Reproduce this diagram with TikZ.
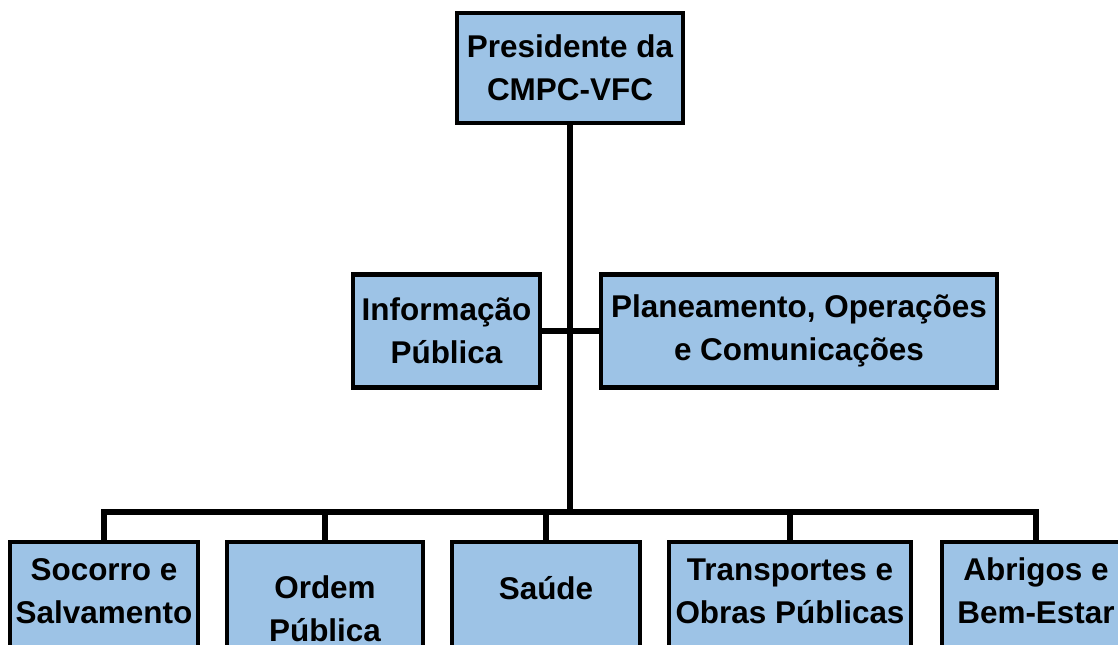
\documentclass[tikz,border=0pt]{standalone}
\usepackage{fontspec}
\setmainfont{Liberation Sans}
\definecolor{caixa}{RGB}{157,195,230}
\tikzset{
  orgbox/.style={draw=black, fill=caixa, line width=2.3pt, inner sep=0pt},
  orgtxt/.style={align=center, font=\bfseries\fontsize{17.9}{24.4}\selectfont},
  fio/.style={line width=3.1pt, line join=miter}
}
\begin{document}
\begin{tikzpicture}[x=0.02cm, y=-0.02cm]
                \useasboundingbox (0,0) rectangle (1118,645) ;
                % topo
                \node [orgbox, orgtxt, minimum width=4.52cm, minimum height=2.2cm] (pres) at (570,68) {Presidente da\\CMPC-VFC} ;
                % meio
                \node [orgbox, orgtxt, minimum width=3.74cm, minimum height=2.26cm] (info) at (446.5,331) {Informação\\Pública} ;
                \node [orgbox, orgtxt, minimum width=7.94cm, minimum height=2.26cm] (plan) at (799,331) {Planeamento, Operações\\e Comunicações} ;
                % baixo
                \node [orgbox, anchor=north, minimum width=3.76cm, minimum height=2.8cm] (socorro) at (104,540) {} ;
                \node [orgbox, anchor=north, minimum width=3.92cm, minimum height=2.8cm] (ordem) at (325,540) {} ;
                \node [orgbox, anchor=north, minimum width=3.76cm, minimum height=2.8cm] (saude) at (546,540) {} ;
                \node [orgbox, anchor=north, minimum width=4.84cm, minimum height=2.8cm] (transp) at (790,540) {} ;
                \node [orgbox, anchor=north, minimum width=3.76cm, minimum height=2.8cm] (abrigos) at (1036,540) {} ;
                \node [orgtxt] (socorro-t) at (104,591) {Socorro e\\Salvamento} ;
                \node [orgtxt] (ordem-t) at (325,609) {Ordem\\Pública} ;
                \node [orgtxt] (saude-t) at (546,588) {Saúde} ;
                \node [orgtxt] (transp-t) at (790,591) {Transportes e\\Obras Públicas} ;
                \node [orgtxt] (abrigos-t) at (1036,591) {Abrigos e\\Bem-Estar} ;
                % ligacoes
                \coordinate (barra) at (570,512) ;
                \draw [fio] (pres.south) -- (barra) ;
                \draw [fio] (info.east) -- (plan.west) ;
                \draw [fio] (socorro.north) |- (abrigos.north |- barra) -- (abrigos.north) ;
                \foreach \n in {ordem,saude,transp}
                  \draw [fio] (\n.north) -- (\n.north |- barra) ;
\end{tikzpicture}
\end{document}
